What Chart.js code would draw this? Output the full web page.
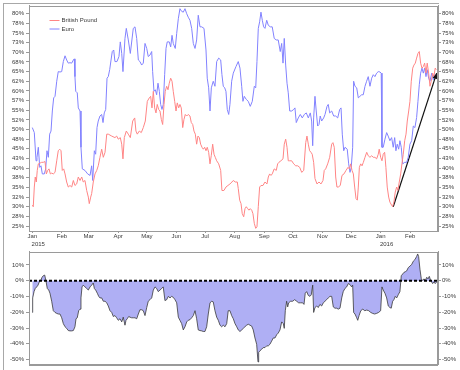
<!DOCTYPE html>
<html><head><meta charset="utf-8">
<script src="https://cdn.jsdelivr.net/npm/chart.js@4"></script>
<style>
html,body{margin:0;padding:0;background:#fff;}
#wrap{position:relative;width:460px;height:370px;overflow:hidden;background:#fff;}
#top{position:absolute;left:0;top:0;}
#bot{position:absolute;left:0;top:246px;}
#frame{position:absolute;left:3px;top:3px;width:435px;height:370px;border-left:1px solid #a8a8a8;border-top:1px solid #a8a8a8;pointer-events:none;}
</style></head>
<body><div id="wrap"><canvas id="top" width="460" height="246"></canvas><canvas id="bot" width="460" height="124"></canvas><div id="frame"></div></div>
<script>
// x values are days since 1 Jan 2015
const monthDays = [0,31,59,90,120,151,181,212,243,273,304,334,365,396];
const monthLabels = ['Jan','Feb','Mar','Apr','May','Jun','Jul','Aug','Sep','Oct','Nov','Dec','Jan','Feb'];
const yearDays = [0,365];
const yearLabels = ['2015','2016'];
const topTickValues = [25,27.5,30,32.5,35,37.5,40,42.5,45,47.5,50,52.5,55,57.5,60,62.5,65,67.5,70,72.5,75,77.5,80];
const topTickLabels = ['25%','28%','30%','32%','35%','38%','40%','43%','45%','48%','50%','52%','55%','57%','60%','62%','65%','68%','70%','73%','75%','78%','80%'];
const botTickValues = [-50,-40,-30,-20,-10,0,10];
const botTickLabels = ['-50%','-40%','-30%','-20%','-10%','0%','10%'];
const seriesNames = ['British Pound','Euro'];

const gbpDays = [
0,1.0,2.1,3.1,4.2,5.2,6.3,8.1,9.8,11.5,
13.3,14.7,16.1,17.5,18.9,20.3,22.0,23.8,25.6,27.2,
28.7,30.1,31.4,32.9,34.3,36.0,37.7,39.5,41.3,43.0,
44.7,46.5,48.2,50.0,51.8,53.4,55.2,57.0,58.7,59.7,
61.2,62.2,63.9,65.7,67.5,69.1,70.9,72.7,74.4,76.2,
78.0,79.6,83.2,86.6,88.4,90.1,92.2,93.7,95.0,96.4,
98.5,100.6,102.7,105.2,107.3,108.6,110.0,112.1,114.2,116.3,
118.4,120.5,122.6,124.0,125.4,126.8,128.2,129.6,130.9,132.4,
133.8,135.2,136.6,138.0,139.3,140.8,142.2,143.5,145.0,146.4,
147.7,149.2,150.6,151.9,153.4,154.7,156.1,157.6,158.9,160.3,
161.8,163.4,165.2,166.6,168.1,169.4,170.8,172.2,173.6,175.0,
176.4,177.8,179.2,180.6,182.0,183.3,184.8,186.2,187.5,189.0,
190.4,191.7,193.2,195.3,197.4,198.7,200.8,202.9,205.0,207.1,
209.2,210.6,212.7,214.8,215.8,217.3,218.7,220.0,221.5,222.9,
224.2,225.7,227.0,228.4,229.9,231.2,232.6,234.1,235.4,236.8,
238.2,239.6,241.7,243.8,245.9,247.3,248.7,250.1,251.4,253.5,
255.6,257.1,258.4,260.5,262.7,264.0,265.5,266.9,268.2,269.7,
271.8,273.9,276.0,278.1,280.2,282.3,284.4,286.5,287.8,289.2,
290.6,292.0,293.3,294.8,296.2,298.3,300.4,302.5,304.6,305.9,
307.4,309.5,311.6,313.7,315.0,316.4,317.9,319.2,320.6,322.7,
324.5,326.6,328.7,330.8,332.2,333.6,335.0,336.4,337.8,339.2,
340.6,341.6,342.7,344.1,345.5,346.9,348.6,350.4,352.0,353.8,
355.6,357.3,359.0,360.8,362.5,363.5,365.0,366.4,367.7,369.2,
370.5,371.9,373.4,374.7,376.5,377.5,378.9,380.3,381.8,383.1,
384.5,386.0,387.3,388.7,390.2,391.6,392.9,394.4,395.7,397.1,
398.6,399.9,401.3,402.7,404.1,405.5,406.9,408.3,409.7,411.1,
412.5,413.8,415.3,416.7,418.0,419.5,420.8,422.2,423.3];
const gbpValues = [
30.4,30,35.1,37.7,36.4,39.4,41.1,41.3,41.5,41.5,
41.7,38.5,39.4,39.8,38.5,38.7,38.5,38.9,41.9,44.5,
44.9,44.5,39.4,39.8,38.5,36.4,35.1,35.5,35.1,36.8,
35.5,35.9,37.7,36.8,37.7,36.4,36.8,34.2,32.5,30.8,
32.5,33.4,36.4,38.5,39.4,40.6,42.8,44.9,42.8,44.1,
48.8,48.8,48.3,47.9,48.3,47.5,47.9,46.2,42.4,47.9,
49.6,48.8,47.9,52.2,53,49.6,48.8,49.6,49.2,50.5,
52.2,57.3,58.2,58.6,55.6,59.9,55.6,54.3,56.5,55.2,
54.8,52.6,51.3,56.5,59.9,61.2,60.3,62,63.3,62.5,
59.9,57.3,54.8,56.9,55.6,56.5,55.6,50.5,52.6,53.9,
53.5,53.9,53.5,51.8,51.3,49.6,48.8,46.2,48.3,47.9,
46.2,45.4,44.9,45.4,44.5,45.4,44.1,41.1,43.2,46.2,
43.6,42.8,41.9,41.1,39.4,34.2,34.2,35.1,35.5,35.9,
36.4,36.8,36.4,36.4,34.7,31.7,30.8,28.2,27.4,29.5,
30,29.5,29.1,29.5,29.1,28.2,25.7,24.4,24.8,30,
35.1,35.5,35.5,36.4,35.9,37.7,38.5,38.1,38.5,39.8,
39.4,41.1,41.5,41.9,42.4,46.2,47.5,45.4,41.9,41.9,
41.9,41.1,40.6,40.6,40.2,38.9,39.4,46.6,48.3,46.2,
44.5,44.1,43.6,41.5,37.3,35.9,36.4,35.9,36.8,39.4,
39.8,41.1,42.8,46.2,46.6,45.4,37.7,35.1,35.1,35.5,
38.1,38.5,39.4,40.2,39.8,41.1,39.4,38.5,35.1,32.1,
31.7,35.1,40.2,41.1,40.6,41.5,42.8,44.1,43.2,42.8,
43.2,42.8,42.8,42.4,43.6,44.9,42.8,41.9,43.6,44.1,
40.2,35.1,32.5,31.2,30.4,30,31.2,33.8,35.1,34.2,
36.4,38.5,41.1,43.6,47.1,48.8,52.2,54.8,57.3,62.5,
65.9,66.7,67.2,68.5,69.7,70.2,67.2,65.9,66.3,67.2,
64.6,67.2,64.6,61.2,62.5,64.6,63.7,65.9,65.5];

const eurDays = [
0,2.1,3.9,4.9,6.3,7.8,9.1,10.5,12.6,14.0,
15.4,16.8,18.2,19.6,21.0,22.4,23.8,25.6,27.2,29.0,
30.8,32.5,34.3,36.0,37.7,39.5,41.3,43.0,44.0,44.7,
45.5,47.1,48.2,50.0,51.0,52.4,55.2,58.0,60.5,62.2,
63.3,65.0,66.4,67.8,69.1,70.9,72.7,74.1,75.4,76.9,
78.3,79.6,81.1,82.5,83.8,85.3,86.6,88.7,90.8,92.2,
93.7,95.0,97.1,98.5,100.6,102.7,105.8,107.6,109.4,111.1,
112.8,114.6,116.3,118.1,119.9,121.5,123.3,125.1,126.1,127.5,
128.9,130.3,131.7,133.1,134.5,135.9,137.2,138.7,140.1,141.4,
143.5,145.0,146.4,147.7,149.8,151.3,153.0,154.7,156.5,158.2,
160.0,161.8,163.4,165.2,167.0,168.7,170.5,172.2,173.9,175.7,
177.5,179.9,182.0,183.3,184.8,186.2,187.6,189.6,191.4,193.2,
195.3,197.4,198.7,200.1,201.6,202.9,204.3,205.8,207.1,208.9,
210.6,213.4,215.8,217.6,219.4,220.7,222.1,224.2,226.3,228.4,
230.5,232.6,234.1,235.4,236.8,238.2,239.6,241.0,242.4,243.8,
245.6,247.3,249.4,251.4,253.5,255.6,257.7,259.8,261.3,262.7,
264.0,265.5,266.9,268.2,269.7,271.8,273.9,275.2,276.6,278.7,
280.8,282.9,285.0,287.1,289.2,291.3,292.7,293.8,294.8,296.2,
297.5,299.0,300.4,301.7,303.2,305.3,306.7,308.8,310.1,311.6,
313.7,315.8,317.9,320.0,322.1,323.5,324.8,326.3,327.7,330.0,
331.5,332.9,334.2,335.7,336.7,338.1,339.9,341.6,343.3,345.1,
346.8,348.6,350.3,352.0,353.8,355.6,357.3,359.0,360.8,362.5,
364.3,365.6,366.4,367.7,369.5,371.3,372.9,374.7,376.5,378.2,
379.7,381.0,382.4,383.9,385.2,386.6,388.1,390.2,392.3,393.9,
395.7,397.5,399.2,400.9,402.7,404.1,405.5,406.9,408.3,409.7,
411.1,412.5,413.8,415.3,416.7,418.5,420.1,421.9,423.3];
const eurValues = [
50.5,49.2,41.9,42.8,45.4,40.2,40.6,38.5,38.5,39.8,
44.5,42.8,48.8,49.6,54.8,58.2,58.6,62.5,65.0,64.9,
65,67.6,69.1,68,67.2,67.3,67.2,68,68.3,63.7,
59.9,59.5,55.6,54.8,45.4,39.8,39.4,38.5,38.1,40.6,
36.8,44.5,43.6,50.5,52.2,53.5,53.9,51.8,54.3,55.2,
63.3,63.7,65.5,68,70.2,70.6,67.6,67.6,68.9,72.7,
69.7,65,73.6,76.2,73.2,69.7,76.2,76.6,73.6,68,
67.6,66.7,67.2,72.3,71,68.9,69.3,70.2,65,59.9,
60.3,59,62,59.9,56.5,55.2,56.5,64.2,71,72.7,
72.7,71.4,74.4,72.3,71,74.9,78.7,81.3,80.6,80.4,
81.3,80,79.1,78.3,76.2,72.3,71,73.2,79.6,76.6,
76.6,76.2,70.6,63.3,60.8,54.8,60.8,62.5,61.2,67.6,
68.5,68,64.2,61.2,60.8,59.9,55.2,53.9,56.5,62.5,
64.6,66.3,67.6,65.9,61.2,57.3,58.6,57.8,57.3,56,
57.3,61.2,60.8,67.6,76.2,77.9,80.4,78.3,76.6,76.2,
78.3,77,76.6,76.6,73.6,73.2,73.2,70.2,72.3,67.2,
73.6,66.7,62,59.5,54.8,54.8,55.2,55.6,51.8,53,
53.9,53,53.9,54.3,53,54.3,52.2,45.8,53,58.6,
54.8,50.9,51.3,53.5,52.2,53,53.9,56,56.5,54.3,
54.8,53.5,53.5,53,55.2,55.6,48.8,44.5,45.4,44.9,
41.1,38.9,40.2,45.4,62.5,61.2,60.8,58.2,58.6,59,
59,61.2,62.5,63.7,61.2,63.3,64.2,63.7,64.6,65,
64.9,64.6,45.4,45.4,47.5,49.2,48.3,47.1,47.9,45.4,
47.9,44.5,46.2,44.9,47.1,45.4,41.1,41.5,41.5,42.8,
46.2,47.1,50.9,50.5,53.1,57.3,61.6,64.6,65.9,64.6,
65.9,63.7,65.5,63.3,62.5,64.6,62.9,64.2,63.7];

const diffDays = [
0,0.4,1.8,3.1,4.6,6.0,7.3,8.8,10.2,11.5,
13.0,14.4,15.7,17.2,18.5,20.3,22.0,23.8,25.6,27.2,
29.0,30.8,32.5,34.3,36.0,37.7,39.5,41.3,43.0,44.7,
45.8,47.1,48.6,50.0,51.0,52.1,53.4,55.2,57.0,58.7,
60.5,62.2,63.9,65.0,66.4,68.1,69.6,70.9,72.7,74.4,
76.2,78.0,79.6,81.4,83.2,84.9,86.6,88.4,90.1,91.9,
93.7,95.3,97.1,98.2,99.5,101.0,102.4,104.1,105.8,107.6,
109.4,111.1,112.8,114.6,116.3,118.1,119.9,121.5,123.3,125.1,
126.8,128.6,130.3,132.0,133.8,135.6,137.2,139.0,140.8,142.5,
144.3,146.0,147.7,149.5,151.3,153.0,154.7,156.5,158.2,160.0,
161.8,163.4,165.2,167.0,168.7,170.5,172.2,173.9,175.7,177.5,
179.2,180.9,182.7,184.4,186.2,188.0,189.6,191.4,193.2,194.9,
196.7,198.4,200.1,201.9,203.7,205.3,207.1,208.9,210.6,212.4,
214.2,215.8,217.6,219.4,221.1,222.8,224.6,226.3,228.1,229.9,
231.5,233.3,235.1,236.5,237.2,238.6,240.4,242.0,243.8,245.6,
247.3,249.0,250.8,252.5,254.3,256.1,257.7,259.5,261.3,263.0,
264.0,265.1,266.5,267.6,268.6,270.7,272.8,274.9,277.0,279.1,
281.2,283.3,284.7,286.0,287.5,289.2,290.9,292.3,293.8,294.8,
296.2,298.0,299.6,301.4,303.2,304.9,306.7,308.4,310.1,311.9,
313.7,315.4,317.1,318.9,320.6,322.4,324.2,325.8,327.6,329.4,
331.1,332.9,334.6,335.7,336.7,338.1,339.9,341.0,342.4,344.2,
346.3,348.4,350.4,352.5,354.6,356.6,358.7,360.8,362.9,365.0,
366.4,367.7,369.5,371.3,373.0,374.7,376.1,377.6,378.9,380.3,
381.8,383.4,385.2,386.6,388.1,389.4,390.8,392.3,393.9,395.7,
397.5,399.2,400.9,402.7,403.8,404.8,406.2,407.6,409.0,410.4,
411.8,413.3,414.6,416.0,417.4,418.5,419.5,420.9,422.2,423.7];
const diffValues = [
-20.1,-10.9,-6.9,-4.9,-3.9,-2.8,-0.8,0.2,2.2,3.2,
3.6,-0.4,-4.9,-5.9,-7.9,-13,-19,-20.1,-20.7,-21.1,
-21.1,-23.5,-27.2,-29.2,-30.2,-31.6,-31.8,-31.8,-31.6,-29.2,
-24.1,-23.5,-19,-18,-10.9,-3.9,-2.8,-3.9,-4.9,-5.9,
-3.9,-2.8,-1.4,-4.9,-5.9,-7.9,-9.9,-10.9,-10.9,-13,
-13,-14,-16,-19,-20.1,-22.7,-22.1,-23.5,-25.1,-24.1,
-26.1,-23.1,-28.2,-25.1,-24.1,-22.7,-23.1,-23.5,-23.5,-23.5,
-24.1,-21.1,-18.4,-18.4,-19,-22.1,-17,-13,-12,-10.9,
-5.9,-3.9,-4.9,-6.9,-5.9,-4.9,-3.9,-12.6,-12,-9.9,
-10.9,-9.9,-10.5,-12,-14,-23.1,-25.1,-27.2,-31.2,-29.2,
-26.1,-25.1,-24.7,-23.5,-22.1,-19,-24.1,-31.2,-31.6,-31.8,
-32.2,-32.2,-29.2,-21.1,-14,-13,-13.4,-19,-23.1,-25.1,
-28.2,-29.2,-28.2,-29.2,-27.2,-19,-19,-22.1,-24.1,-27.2,
-29.2,-31.2,-32.2,-31.2,-30.2,-29.2,-28.2,-27.6,-28.2,-28.8,
-31.2,-36.3,-40.3,-51.5,-45.4,-44.4,-43.4,-42.4,-42.4,-41.3,
-41.3,-40.3,-38.3,-36.3,-36.3,-34.2,-33.2,-31.2,-26.1,-27.2,
-30.2,-19,-13,-16.6,-14,-13,-13,-12,-13,-14,
-14,-14,-15,-7.9,-6.9,-9.3,-9.9,-8.9,-2.8,-20.1,
-17,-16,-17,-15,-16,-14,-13,-12,-10.9,-9.9,
-9.9,-16.6,-17.4,-17.4,-18,-17.4,-10.9,-6.9,-4.9,-3.9,
-1.8,-2.4,-3.9,-2.8,-20.1,-21.1,-23.5,-25.1,-22.1,-19,
-18,-19,-18.6,-19,-20.1,-20.7,-21.1,-20.7,-20.1,-19,
-3.9,-5.9,-7.9,-10.9,-16,-17,-17.4,-13,-12,-9.9,
-10.9,-8.9,-6.9,3.2,4.3,5.3,5.7,6.3,8.3,9.3,
10.3,12.4,13.4,15.4,17,15.4,7.3,1.2,0.2,1.2,
0.2,2.2,1.2,2.8,0.2,-0.8,-1.8,-0.8,-1.8,-0.8];

const trendDays = [378.2, 423.7];
const trendValues = [30, 64.6];

const X_MIN = -3.46, X_MAX = 425.1;
const TOP_MIN = 23.71, TOP_MAX = 82.1;
const BOT_MIN = -53.07, BOT_MAX = 18.5;

const FONT = {family: "'Liberation Sans', Arial, sans-serif", size: 6};
const TXT = '#3a3a3a';
const AX = '#9a9a9a';
Chart.defaults.font.family = FONT.family;
Chart.defaults.font.size = FONT.size;
Chart.defaults.color = TXT;

function pts(xs, ys){ return xs.map((d,i)=>({x:d, y:ys[i]})); }

const framePlugin = {
  id:'frame',
  afterDraw(chart){
    const a = chart.chartArea, c = chart.ctx;
    c.save(); c.strokeStyle = AX; c.lineWidth = 1;
    c.strokeRect(Math.round(a.left)+0.5, Math.round(a.top)+0.5, Math.round(a.right-a.left)-1, Math.round(a.bottom-a.top));
    c.restore();
  }
};

const legendPlugin = {
  id:'innerLegend',
  afterDraw(chart){
    const c = chart.ctx;
    c.save();
    c.font = FONT.size + 'px ' + FONT.family;
    c.textBaseline = 'middle'; c.textAlign = 'left';
    const rows = [20.5, 29];
    chart.data.datasets.slice(0,2).forEach((ds,i)=>{
      c.strokeStyle = ds.borderColor; c.lineWidth = 1;
      c.beginPath(); c.moveTo(49.5, rows[i]); c.lineTo(59.5, rows[i]); c.stroke();
      c.fillStyle = TXT; c.fillText(seriesNames[i], 61.5, rows[i]);
    });
    c.restore();
  }
};

const yearPlugin = {
  id:'years',
  afterDraw(chart){
    const c = chart.ctx, xs = chart.scales.x;
    c.save();
    c.font = FONT.size + 'px ' + FONT.family;
    c.fillStyle = TXT; c.textBaseline = 'middle'; c.textAlign = 'left';
    yearDays.forEach((d,i)=>{ c.fillText(yearLabels[i], xs.getPixelForValue(d) - 0.7, 244); });
    c.restore();
  }
};

const arrowPlugin = {
  id:'arrow',
  afterDatasetsDraw(chart){
    const meta = chart.getDatasetMeta(2);
    const p = meta.data;
    if (!p || p.length < 2) return;
    const a = p[p.length-2], b = p[p.length-1];
    const ang = Math.atan2(b.y-a.y, b.x-a.x);
    const L = 5.5, W = 2.4;
    const c = chart.ctx;
    c.save(); c.fillStyle = '#111';
    c.beginPath();
    c.moveTo(b.x, b.y);
    c.lineTo(b.x - L*Math.cos(ang) + W*Math.sin(ang), b.y - L*Math.sin(ang) - W*Math.cos(ang));
    c.lineTo(b.x - L*Math.cos(ang) - W*Math.sin(ang), b.y - L*Math.sin(ang) + W*Math.cos(ang));
    c.closePath(); c.fill();
    c.restore();
  }
};

const zeroPlugin = {
  id:'zero',
  afterDatasetsDraw(chart){
    const y = chart.scales.y.getPixelForValue(0), a = chart.chartArea, c = chart.ctx;
    c.save(); c.strokeStyle = '#000'; c.lineWidth = 2; c.setLineDash([3,2]);
    c.beginPath(); c.moveTo(a.left, y); c.lineTo(a.right, y); c.stroke();
    c.restore();
  }
};

function yAxis(pos, min, max, vals, labels, width){
  return {
    position: pos, min: min, max: max,
    afterBuildTicks: s => { s.ticks = vals.map(v=>({value:v})); },
    afterFit: s => { s.width = width; },
    ticks: { autoSkip:false, padding: pos==='left' ? 2 : 1, font: FONT, color: TXT,
      callback: v => labels[vals.indexOf(v)] },
    grid: { drawOnChartArea:false, tickLength:3, color: AX },
    border: { color: AX }
  };
}

new Chart(document.getElementById('top'), {
  type:'line',
  data:{ datasets:[
    { label:seriesNames[0], data: pts(gbpDays, gbpValues), borderColor:'#ff8585', borderWidth:1, pointRadius:0, tension:0, fill:false },
    { label:seriesNames[1], data: pts(eurDays, eurValues), borderColor:'#8282ff', borderWidth:1, pointRadius:0, tension:0, fill:false },
    { label:'trend', data: pts(trendDays, trendValues), borderColor:'#111', borderWidth:1.2, pointRadius:0, tension:0, fill:false }
  ]},
  options:{
    responsive:false, animation:false, devicePixelRatio:1,
    layout:{ padding:{ top:3, left:0, right:0, bottom:0 } },
    plugins:{ legend:{display:false}, tooltip:{enabled:false} },
    scales:{
      x:{ type:'linear', min:X_MIN, max:X_MAX,
        afterBuildTicks: s => { s.ticks = monthDays.map(v=>({value:v})); },
        afterFit: s => { s.height = 15; },
        ticks:{ autoSkip:false, maxRotation:0, padding:0, font:FONT, color:TXT,
          callback:(v,i) => monthLabels[i] },
        grid:{ drawOnChartArea:false, tickLength:2, color:AX },
        border:{ color:AX } },
      y: yAxis('left', TOP_MIN, TOP_MAX, topTickValues, topTickLabels, 29),
      y2: yAxis('right', TOP_MIN, TOP_MAX, topTickValues, topTickLabels, 22)
    }
  },
  plugins:[framePlugin, legendPlugin, yearPlugin, arrowPlugin]
});

new Chart(document.getElementById('bot'), {
  type:'line',
  data:{ datasets:[
    { label:'Difference', data: pts(diffDays, diffValues), borderColor:'#3a3a3a', borderWidth:0.8, backgroundColor:'#afaff4', pointRadius:0, tension:0, fill:'origin' }
  ]},
  options:{
    responsive:false, animation:false, devicePixelRatio:1,
    layout:{ padding:{ top:2, left:0, right:0, bottom:4 } },
    plugins:{ legend:{display:false}, tooltip:{enabled:false} },
    scales:{
      x:{ type:'linear', min:X_MIN, max:X_MAX, ticks:{display:false}, grid:{display:false}, border:{color:AX},
        afterFit: s => { s.height = 0; } },
      y: yAxis('left', BOT_MIN, BOT_MAX, botTickValues, botTickLabels, 29),
      y2: yAxis('right', BOT_MIN, BOT_MAX, botTickValues, botTickLabels, 22)
    }
  },
  plugins:[zeroPlugin, framePlugin]
});
</script>
</body></html>
